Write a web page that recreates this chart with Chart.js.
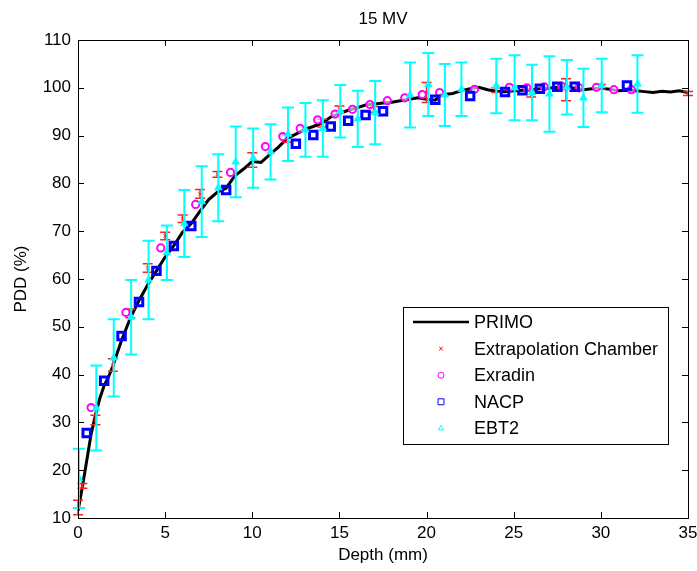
<!DOCTYPE html>
<html><head><meta charset="utf-8">
<script src="https://cdn.jsdelivr.net/npm/chart.js@4.4.1/dist/chart.umd.min.js"></script>
<style>html,body{margin:0;padding:0;background:#fff;}#wrap{width:697px;height:571px;}</style>
</head><body><div id="wrap"><canvas id="c" width="697" height="571"></canvas></div>
<script>
// ---- data ----
const primoDepth = [0,0.25,0.5,0.75,1,1.25,1.5,1.75,2,2.25,2.5,2.75,3,3.5,4,4.5,5,5.5,6,6.5,7,7.5,8,8.5,9,9.5,10,10.5,11,11.5,12,12.5,13,13.5,14,14.5,15,15.5,16,16.5,17,17.5,18,18.5,19,19.5,20,20.5,20.8,21,21.5,22,22.5,23,23.5,24,24.5,25,25.5,26,26.5,27,27.5,28,28.5,29,29.5,30,30.5,31,31.5,32,32.5,33,33.5,34,34.5,35];
const primoPDD = [11.5,16.5,22,27.5,31.5,35,37.7,39.5,41.8,44.5,47.2,49.5,51.8,55.5,58.8,61.7,64.6,67.0,69.8,71.6,74.2,76.6,78.2,79.0,81.6,83.0,84.6,84.4,86.0,87.6,89.4,90.3,91.3,91.9,92.6,93.9,94.6,95.3,95.8,96.4,96.6,96.8,97.0,97.3,97.6,97.9,97.6,97.4,98.5,98.6,98.8,99.4,99.8,100.1,99.6,99.3,99.2,99.4,99.5,99.6,99.8,99.9,100.1,100.2,99.9,99.6,99.8,99.9,99.7,99.4,99.5,99.4,99.2,99.0,99.3,99.1,99.4,99.0];

const extDepth = [0,0.25,1,2,3,4,5,6,7,8,10,12,14,15,17,20,24,26,28,30,35];
const extPDD   = [12.2,16.7,30.5,42.0,52.8,62.3,69.0,72.6,77.8,81.9,84.9,89.4,92.6,95.6,95.5,99.0,99.5,98.9,99.6,100.2,98.8];
const extErr   = [1.5,0.5,1.0,1.3,0.9,0.9,0.8,0.8,0.9,0.6,1.5,0.8,0.8,0.6,0.6,2.1,0.5,0.8,2.3,0.5,0.4];

const exrDepth = [0.75,2.75,4.75,6.75,8.75,10.75,11.75,12.75,13.75,14.75,15.75,16.75,17.75,18.75,19.75,20.75,22.75,24.75,25.75,26.75,27.75,28.75,29.75,30.75,31.75];
const exrPDD   = [33.1,53.0,66.5,75.6,82.3,87.7,89.8,91.5,93.3,94.5,95.5,96.5,97.3,97.9,98.6,99.0,99.7,100.1,100.0,100.2,100.3,100.0,100.1,99.6,99.6];

const nacpDepth = [0.5,1.5,2.5,3.5,4.5,5.5,6.5,8.5,12.5,13.5,14.5,15.5,16.5,17.5,20.5,22.5,24.5,25.5,26.5,27.5,28.5,31.5];
const nacpPDD   = [27.8,38.7,48.1,55.2,61.7,66.9,71.1,78.6,88.3,90.1,91.9,93.1,94.3,95.1,97.5,98.3,99.1,99.5,99.8,100.2,100.2,100.5];

const ebtDepth = [0.05,1.05,2.05,3.05,4.05,5.1,6.1,7.1,8.05,9.05,10.05,11.05,12.05,13.05,14.05,15.05,16.05,17.05,19.05,20.1,21.05,22.0,24.0,25.05,26.05,27.05,28.05,29.0,30.05,32.1];
const ebtPDD   = [18.3,33.0,43.5,52.0,59.8,65.5,71.6,76.2,79.1,84.5,85.3,86.6,90.3,91.2,91.5,95.1,93.5,94.8,98.5,100.7,98.5,99.7,100.4,100.0,99.0,98.7,100.1,97.9,100.5,100.8];
const ebtErr   = [6.2,8.9,8.1,7.8,8.2,5.7,7.0,7.4,7.0,7.4,6.2,5.8,5.6,5.6,5.9,5.5,5.9,6.6,6.8,6.6,6.5,5.6,5.7,6.8,5.8,7.9,5.7,6.1,5.6,6.0];

const xTickValues = [0,5,10,15,20,25,30,35];
const yTickValues = [10,20,30,40,50,60,70,80,90,100,110];

const titleText = '15 MV';
const xTitle = 'Depth (mm)';
const yTitle = 'PDD (%)';
const seriesNames = ['PRIMO','Extrapolation Chamber','Exradin','NACP','EBT2'];

// ---- build ----
const pts = (xs, ys) => xs.map((x,i)=>({x, y: ys[i]}));
const FONT = "'Liberation Sans', Arial, sans-serif";

const errorBarPlugin = {
  id: 'errbars',
  afterDatasetDraw(chart, args) {
    const ds = chart.data.datasets[args.index];
    if (!ds.errValues) return;
    const ctx = chart.ctx, xs = chart.scales.x, ys = chart.scales.y;
    ctx.save();
    ctx.strokeStyle = ds.errColor; ctx.lineWidth = ds.errWidth;
    ds.data.forEach((p,i)=>{
      const e = ds.errValues[i];
      const px = xs.getPixelForValue(p.x);
      const top = ys.getPixelForValue(p.y + e), bot = ys.getPixelForValue(p.y - e);
      const h = ds.capHalf;
      ctx.beginPath();
      ctx.moveTo(px, top); ctx.lineTo(px, bot);
      ctx.moveTo(px-h, top); ctx.lineTo(px+h, top);
      ctx.moveTo(px-h, bot); ctx.lineTo(px+h, bot);
      ctx.stroke();
    });
    ctx.restore();
  }
};

const framePlugin = {
  id: 'frame',
  afterDraw(chart) {
    const ctx = chart.ctx, a = chart.chartArea, xs = chart.scales.x, ys = chart.scales.y;
    ctx.save();
    ctx.strokeStyle = '#000'; ctx.lineWidth = 1;
    ctx.strokeRect(Math.round(a.left)+0.5, Math.round(a.top)+0.5, Math.round(a.right-a.left), Math.round(a.bottom-a.top));
    const L = 6;
    ctx.beginPath();
    xTickValues.forEach(v=>{
      const px = Math.round(xs.getPixelForValue(v))+0.5;
      ctx.moveTo(px, a.bottom); ctx.lineTo(px, a.bottom - L);
      ctx.moveTo(px, a.top); ctx.lineTo(px, a.top + L);
    });
    yTickValues.forEach(v=>{
      const py = Math.round(ys.getPixelForValue(v))+0.5;
      ctx.moveTo(a.left, py); ctx.lineTo(a.left + L, py);
      ctx.moveTo(a.right, py); ctx.lineTo(a.right - L, py);
    });
    ctx.stroke();
    // title
    ctx.fillStyle = '#000';
    ctx.font = '17px ' + FONT;
    ctx.textAlign = 'center'; ctx.textBaseline = 'middle';
    ctx.fillText(titleText, (a.left + a.right)/2, 19);
    // legend
    const bx = 403, by = 307, bw = 265, bh = 137;
    ctx.fillStyle = '#fff';
    ctx.fillRect(bx, by, bw, bh);
    ctx.strokeStyle = '#000'; ctx.lineWidth = 1;
    ctx.strokeRect(bx+0.5, by+0.5, bw, bh);
    const rowY0 = 322, rowStep = 26.6;
    chart.data.datasets.forEach((ds, i) => {
      const y = rowY0 + i*rowStep;
      ctx.save();
      if (i === 0) {
        ctx.strokeStyle = '#000'; ctx.lineWidth = 2.5;
        ctx.beginPath(); ctx.moveTo(413, y); ctx.lineTo(469, y); ctx.stroke();
      } else {
        ctx.strokeStyle = ds.borderColor; ctx.fillStyle = ds.legendFill || 'rgba(0,0,0,0)';
        Chart.helpers.drawPoint(ctx, {pointStyle: ds.pointStyle, radius: ds.legendRadius, rotation: 0, borderWidth: ds.legendBorder}, 441, y);
      }
      ctx.restore();
      ctx.fillStyle = '#000';
      ctx.font = '18px ' + FONT;
      ctx.textAlign = 'left'; ctx.textBaseline = 'middle';
      ctx.fillText(seriesNames[i], 474, y + 1);
    });
    ctx.restore();
  }
};

new Chart(document.getElementById('c'), {
  type: 'scatter',
  data: {
    datasets: [
      { label: seriesNames[0], data: pts(primoDepth, primoPDD), showLine: true, borderColor: '#000', borderWidth: 3, pointRadius: 0, tension: 0, order: 5 },
      { label: seriesNames[1], data: pts(extDepth, extPDD), pointStyle: 'crossRot', pointRadius: 2.2, borderColor: '#ff0000', borderWidth: 1, backgroundColor: '#ff0000', order: 4,
        errValues: extErr, errColor: '#ff2020', errWidth: 1.5, capHalf: 5, legendRadius: 2.5, legendBorder: 1 },
      { label: seriesNames[2], data: pts(exrDepth, exrPDD), pointStyle: 'circle', pointRadius: 3.6, borderColor: '#ff00ff', borderWidth: 2, backgroundColor: 'rgba(255,255,255,0.6)', order: 3,
        legendRadius: 3, legendBorder: 2, legendFill: '#fff' },
      { label: seriesNames[3], data: pts(nacpDepth, nacpPDD), pointStyle: 'rect', pointRadius: 5.3, borderColor: '#0000ff', borderWidth: 3, backgroundColor: 'rgba(0,0,0,0)', order: 2,
        legendRadius: 4.2, legendBorder: 2.5, legendFill: '#fff' },
      { label: seriesNames[4], data: pts(ebtDepth, ebtPDD), pointStyle: 'triangle', pointRadius: 4.2, borderColor: '#00ffff', borderWidth: 1, backgroundColor: '#00ffff', order: 1,
        errValues: ebtErr, errColor: '#00ffff', errWidth: 2, capHalf: 6, legendRadius: 3, legendBorder: 1.5, legendFill: '#fff' }
    ]
  },
  options: {
    responsive: false, animation: false, devicePixelRatio: 1,
    layout: { padding: { top: 40, right: 9, left: 0, bottom: 0 } },
    plugins: { legend: { display: false }, tooltip: { enabled: false } },
    scales: {
      x: {
        type: 'linear', min: 0, max: 35,
        afterFit(s) { s.height = 53; s.paddingRight = 0; s.paddingLeft = 0; },
        afterBuildTicks(s) { s.ticks = xTickValues.map(v=>({value: v})); },
        grid: { display: false, drawTicks: false },
        border: { display: true, color: '#000' },
        ticks: { color: '#000', font: { family: FONT, size: 17 }, padding: 5, maxRotation: 0 },
        title: { display: true, text: xTitle, color: '#000', font: { family: FONT, size: 17 }, padding: { top: 0, bottom: 5 } }
      },
      y: {
        type: 'linear', min: 10, max: 110,
        afterFit(s) { s.width = 78; s.paddingTop = 0; s.paddingBottom = 0; },
        afterBuildTicks(s) { s.ticks = yTickValues.map(v=>({value: v})); },
        grid: { display: false, drawTicks: false },
        border: { display: true, color: '#000' },
        ticks: { color: '#000', font: { family: FONT, size: 17 }, padding: 7 },
        title: { display: true, text: yTitle, color: '#000', font: { family: FONT, size: 17 }, padding: { top: 11, bottom: 0 } }
      }
    }
  },
  plugins: [errorBarPlugin, framePlugin]
});
</script></body></html>
